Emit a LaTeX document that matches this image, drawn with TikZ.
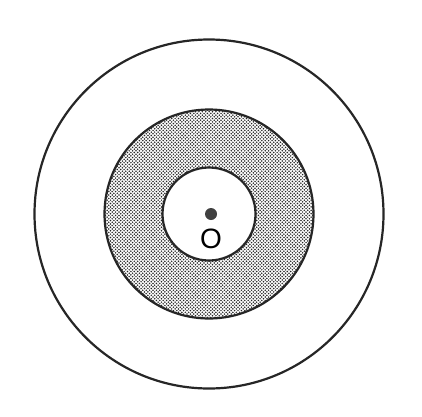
\documentclass[tikz,border=0pt]{standalone}
\usepackage{fontspec}
\setmainfont{Liberation Sans}
\usetikzlibrary{patterns}
\pgfdeclarepatternformonly{halftone}{\pgfpoint{-1pt}{-1pt}}{\pgfpoint{4.5pt}{4.5pt}}{\pgfpoint{3.4pt}{3.4pt}}{%
  \pgfpathcircle{\pgfpointorigin}{0.85pt}%
  \pgfpathcircle{\pgfpoint{1.7pt}{1.7pt}}{0.85pt}%
  \pgfusepath{fill}}
\tikzset{ring/.style={line width=2.2pt, draw=black!85}}
\begin{document}
\begin{tikzpicture}[x=1pt,y=1pt]
\useasboundingbox (0,0) rectangle (422,416);
\fill[white] (0,0) rectangle (422,416);
\coordinate (c) at (209,202);
% shaded annulus
\fill[pattern=halftone, pattern color=black!85, even odd rule] (c) circle (104.5) (c) circle (46.5);
\draw[ring] (c) circle (174.5);
\draw[ring] (c) circle (104.5);
\draw[ring] (c) circle (46.5);
\fill[black!75] (211,202) circle (6);
\node[inner sep=0pt, font=\fontsize{28}{30}\selectfont] (o) at (211,177) {O};
\end{tikzpicture}
\end{document}
